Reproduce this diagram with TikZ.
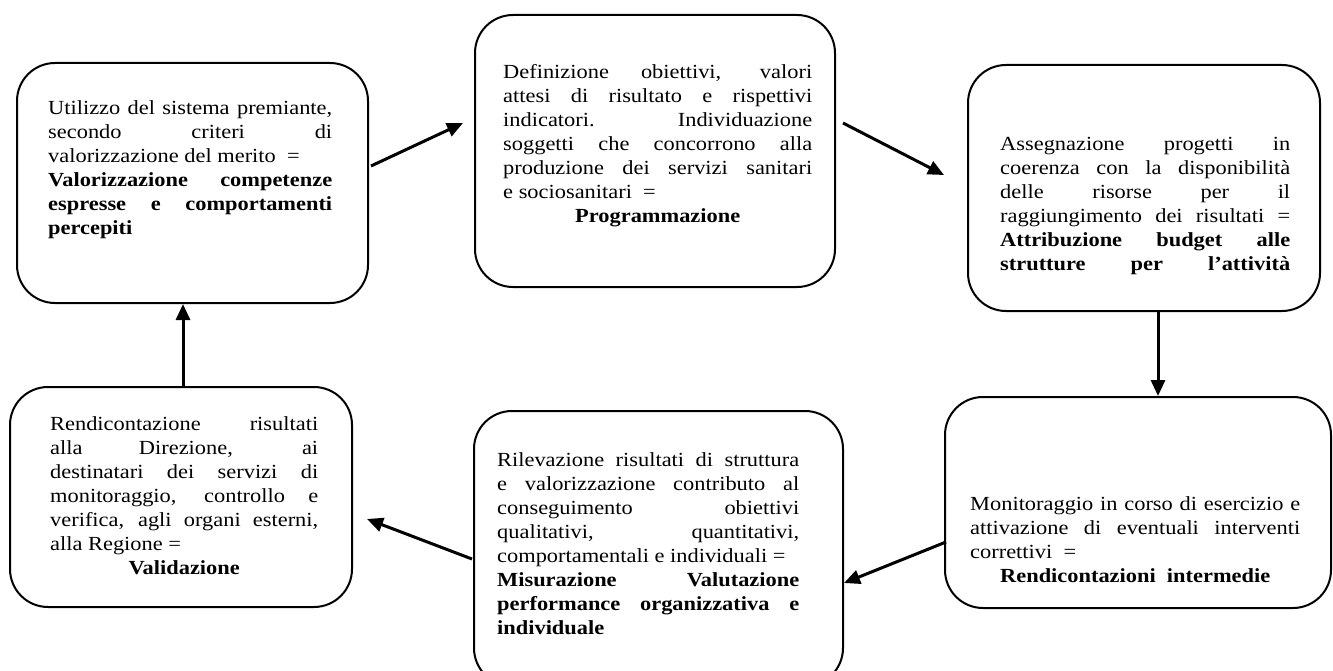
\documentclass[tikz,border=0pt]{standalone}
\usepackage{fontspec}
\setmainfont{Liberation Serif}[FakeStretch=1.12]
\usetikzlibrary{arrows.meta}
\newcommand\jline[1]{\makebox[\linewidth][s]{#1}\par}
\newcommand\lastl[1]{\mbox{#1}\par}
\newcommand\centline[1]{\makebox[\linewidth][c]{#1}\par}
\hbadness=10000
\tikzset{
  box/.style={draw, line width=2pt, rounded corners=38pt, inner sep=0pt},
  txt/.style={anchor=base west, inner sep=0pt, align=justify,
    font=\fontsize{20}{24}\selectfont},
  arr/.style={line width=3pt, -{Triangle[length=16pt,width=14pt]}}
}
\begin{document}
\begin{tikzpicture}[x=1pt,y=-1pt]
\clip (0,0) rectangle (1333,671);
\fill[white] (0,0) rectangle (1333,671);
% boxes
\node[box, minimum width=351pt, minimum height=240pt] (b1) at (192.5,183) {};
\node[box, minimum width=360pt, minimum height=272pt] (b2) at (655,151) {};
\node[box, minimum width=352pt, minimum height=246pt] (b3) at (1144,188) {};
\node[box, minimum width=342pt, minimum height=220pt] (b4) at (181,497) {};
\node[box, minimum width=369pt, minimum height=275pt] (b5) at (658.5,548.5) {};
\node[box, minimum width=386pt, minimum height=211pt] (b6) at (1138,502.5) {};
% texts
\node[txt, text width=284pt] (t1) at (48,115) {%
\jline{Utilizzo del sistema premiante,}
\jline{secondo criteri di}
\lastl{valorizzazione del merito~~=}
\jline{\bfseries Valorizzazione competenze}
\jline{\bfseries espresse e comportamenti}
\lastl{\bfseries percepiti}};
\node[txt, text width=309pt] (t2) at (503,79) {%
\jline{Definizione obiettivi, valori}
\jline{attesi di risultato e rispettivi}
\jline{indicatori. Individuazione}
\jline{soggetti che concorrono alla}
\jline{produzione dei servizi sanitari}
\lastl{e sociosanitari~ =}
\centline{\bfseries Programmazione}};
\node[txt, text width=290pt] (t3) at (1000,151) {%
\jline{Assegnazione progetti in}
\jline{coerenza con la disponibilità}
\jline{delle risorse per il}
\jline{raggiungimento dei risultati =}
\jline{\bfseries Attribuzione budget alle}
\jline{\bfseries strutture per l’attività}};
\node[txt, text width=268pt] (t4) at (50,430) {%
\jline{Rendicontazione risultati}
\jline{alla Direzione, ai}
\jline{destinatari dei servizi di}
\jline{monitoraggio, controllo e}
\jline{verifica, agli organi esterni,}
\lastl{alla Regione =}
\centline{\bfseries Validazione}};
\node[txt, text width=302pt] (t5) at (497,466) {%
\jline{Rilevazione risultati di struttura}
\jline{e valorizzazione contributo al}
\jline{conseguimento obiettivi}
\jline{qualitativi, quantitativi,}
\lastl{comportamentali e individuali =}
\jline{\bfseries Misurazione Valutazione}
\jline{\bfseries performance organizzativa e}
\lastl{\bfseries individuale}};
\node[txt, text width=330pt] (t6) at (970,510) {%
\jline{Monitoraggio in corso di esercizio e}
\jline{attivazione di eventuali interventi}
\lastl{correttivi~ =}
\centline{\bfseries Rendicontazioni~ intermedie}};
% arrows
\draw[arr] ([xshift=2pt,yshift=17pt]b1.east) -- ([xshift=-11pt,yshift=28pt]b2.west);
\draw[arr] ([xshift=7pt,yshift=28pt]b2.east) -- ([xshift=-23pt,yshift=13pt]b3.west);
\draw[arr] ([xshift=14pt]b3.south) -- ([xshift=20pt]b6.north);
\draw[arr] ([xshift=2pt,yshift=-39.5pt]b6.west) -- ([yshift=-34.5pt]b5.east);
\draw[arr] ([xshift=-1pt,yshift=-10.5pt]b5.west) -- ([xshift=14pt,yshift=-22pt]b4.east);
\draw[arr] ([xshift=2pt]b4.north) -- ([xshift=-9.5pt]b1.south);
\end{tikzpicture}
\end{document}
